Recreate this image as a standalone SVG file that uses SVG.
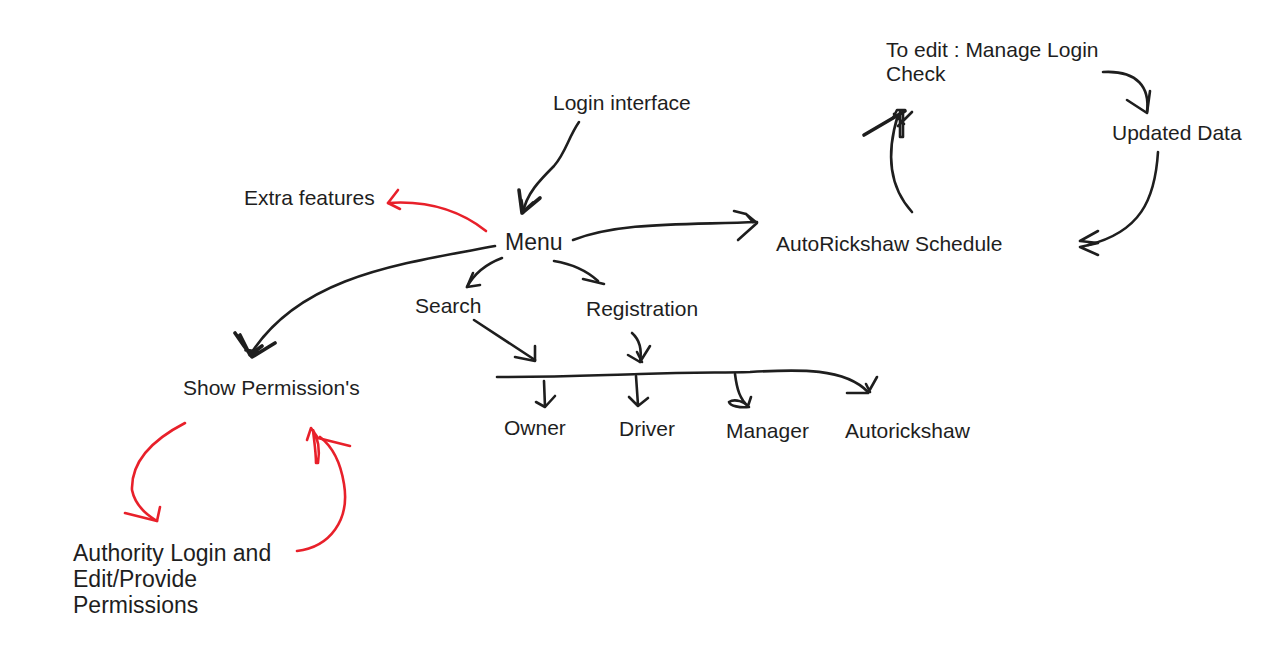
<svg xmlns="http://www.w3.org/2000/svg" width="1276" height="652" viewBox="0 0 1276 652">
<style>
text{font-family:"Liberation Sans",Arial,sans-serif;font-size:21px;fill:#1e1e1e}
.big{font-size:23px}
.k{fill:none;stroke:#1e1e1e;stroke-width:2.6;stroke-linecap:round;stroke-linejoin:round}
.h{fill:none;stroke:#1e1e1e;stroke-width:3.6;stroke-linecap:round;stroke-linejoin:round}
.r{fill:none;stroke:#e8202a;stroke-width:2.6;stroke-linecap:round;stroke-linejoin:round}
</style>
<rect width="1276" height="652" fill="#ffffff"/>
<g id="connectors">
<!-- Login -> Menu -->
<path class="k" d="M579,122 C568,138 566,152 554,166 C540,180 526,194 523,213"/>
<path class="h" d="M519,190 L522,213 L540,198 M521,200 L523,212 M522,213 L533,203"/>
<!-- Menu -> AutoRickshaw Schedule -->
<path class="k" d="M573,240 C620,222 680,225 757,222"/>
<path class="k" d="M734,211 L746,214 L757,223 L738,240 M746,214 L753,222"/>
<!-- Menu -> Extra features (red) -->
<path class="r" d="M486,231 C462,212 432,200 388,203"/>
<path class="r" d="M398,190 L388,203 L400,209"/>
<!-- Menu -> Show Permission's -->
<path class="k" d="M495,246 C400,264 300,276 250,355"/>
<path class="h" d="M235,333 L244,346 L252,357 L275,343 M240,335 L250,355 L262,346 M246,350 L256,352"/>
<!-- Menu -> Search -->
<path class="k" d="M502,258 C486,264 474,274 467,287"/>
<path class="k" d="M473,273 L467,287 L480,285"/>
<!-- Menu -> Registration -->
<path class="k" d="M554,261 C572,264 586,270 598,281"/>
<path class="k" d="M583,279 L604,284"/>
<!-- Search -> bar -->
<path class="k" d="M474,320 L535,360"/>
<path class="k" d="M535,346 L535,361 L515,357"/>
<!-- Registration -> bar -->
<path class="k" d="M632,333 C640,340 642,350 640,362"/>
<path class="k" d="M628,355 L640,362 L650,346 M637,352 L642,362"/>
<!-- bar -->
<path class="k" d="M497,377 C560,377 600,375 640,374 C700,372 720,373 750,372 C800,369 845,368 868,392"/>
<path class="k" d="M847,393 L868,393 L877,377 M866,384 L870,392"/>
<!-- drops -->
<path class="k" d="M544,381 L545,407 M536,402 L545,407 L555,396"/>
<path class="k" d="M636,376 L638,405 M629,397 L638,406 L648,398"/>
<path class="k" d="M735,374 C737,390 740,399 748,406 M729,402 C735,398 745,402 749,407 C740,408 730,406 729,402 M748,406 L751,397"/>
<!-- To edit -> Updated Data -->
<path class="k" d="M1103,72 C1138,70 1150,88 1147,112"/>
<path class="k" d="M1127,100 L1147,113 L1150,91"/>
<!-- Updated Data -> AutoRickshaw (back) -->
<path class="k" d="M1158,152 C1155,200 1140,232 1088,245"/>
<path class="k" d="M1098,231 L1080,241 L1098,243 L1080,247 L1098,255"/>
<!-- AutoRickshaw -> To edit -->
<path class="k" d="M912,212 C892,190 884,160 898,115"/>
<path class="h" d="M864,135 L905,111"/>
<path class="k" d="M893,118 L897,110 L905,110 M900,112 L900,137 L903,137 L903,112 M912,112 L898,126 M894,114 L904,124"/>
<!-- Show Permission's -> Authority (red) -->
<path class="r" d="M185,423 C152,440 131,462 132,490 C135,505 145,514 157,521"/>
<path class="r" d="M125,513 L157,521 L160,507"/>
<!-- Authority -> Show Permission's (red) -->
<path class="r" d="M297,551 C330,547 350,520 344,484 C341,465 333,447 320,437"/>
<path class="r" d="M307,440 L311,428 L318,438 L350,446 M313,430 C314,440 316,452 316,463 L318,463 C320,450 318,438 313,430"/>
</g>
<g id="login"><text x="553" y="110">Login interface</text></g>
<g id="menu"><text class="big" x="505" y="250">Menu</text></g>
<g id="extra"><text x="244" y="205">Extra features</text></g>
<g id="search"><text x="415" y="313">Search</text></g>
<g id="registration"><text x="586" y="316">Registration</text></g>
<g id="schedule"><text x="776" y="251">AutoRickshaw Schedule</text></g>
<g id="toedit"><text x="886" y="57">To edit : Manage Login</text><text x="886" y="81">Check</text></g>
<g id="updated"><text x="1112" y="140">Updated Data</text></g>
<g id="showperm"><text x="183" y="395">Show Permission's</text></g>
<g id="owner"><text x="504" y="435">Owner</text></g>
<g id="driver"><text x="619" y="436">Driver</text></g>
<g id="manager"><text x="726" y="438">Manager</text></g>
<g id="autorickshaw"><text x="845" y="438">Autorickshaw</text></g>
<g id="authority"><text class="big" x="73" y="561">Authority Login and</text><text class="big" x="73" y="587">Edit/Provide</text><text class="big" x="73" y="613">Permissions</text></g>
</svg>
